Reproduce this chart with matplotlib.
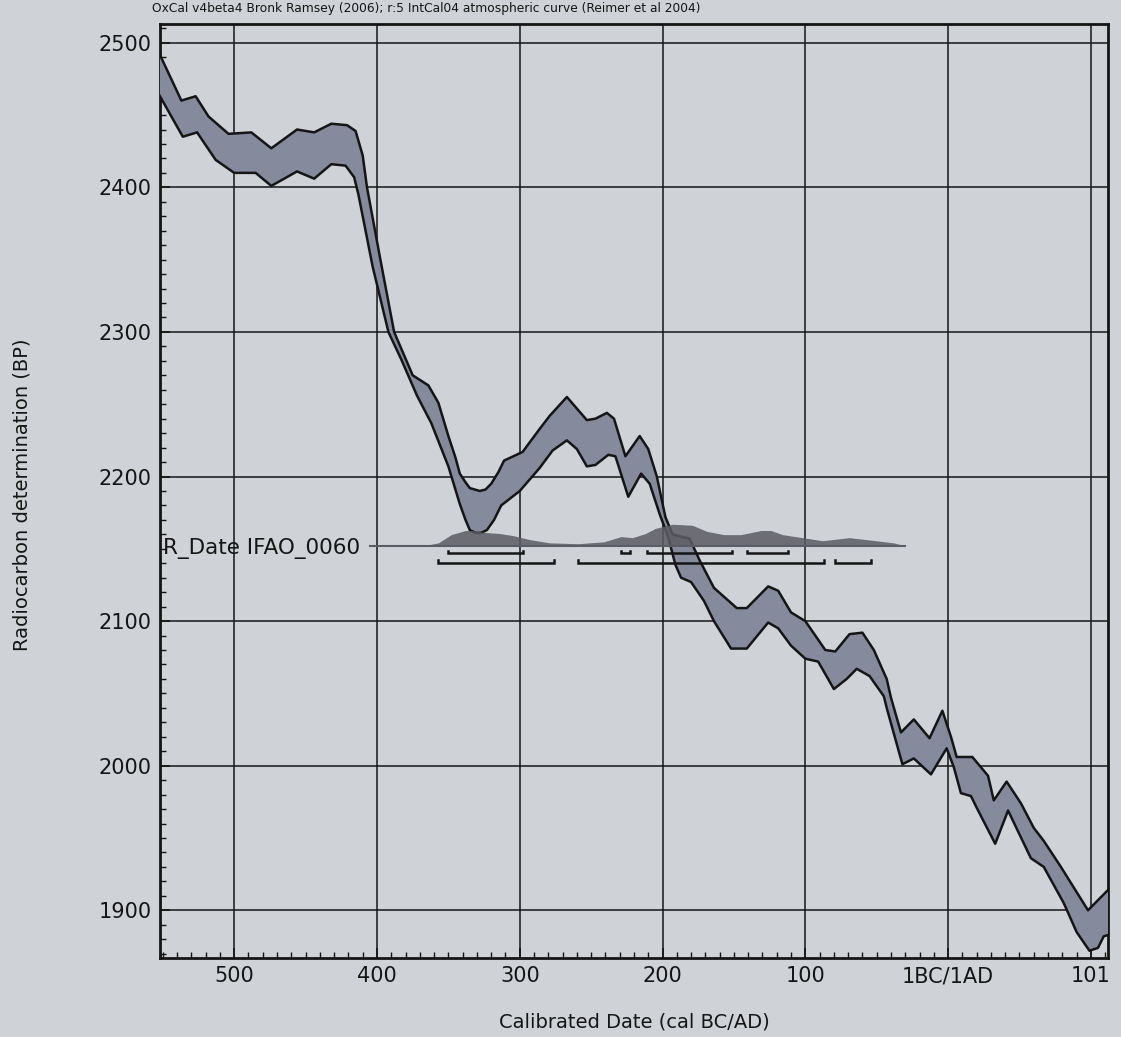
import numpy as np
import matplotlib
matplotlib.use("Agg")
import matplotlib.pyplot as plt
from matplotlib.ticker import MultipleLocator, FixedLocator

# IntCal04 calibration band: upper and lower 1-sigma envelope (years: BC negative, 1BC/1AD = 0)
upper_years = [-556, -537, -527, -518, -504, -488, -474, -456, -444, -432, -421, -415,
               -410, -407, -398, -388, -375, -364, -357, -350, -345, -342, -338, -335,
               -328, -324, -320, -315, -311, -298, -286, -279, -267, -260, -253, -247,
               -239, -234, -226, -216, -210, -204, -198, -193, -181, -174, -164, -148,
               -141, -126, -119, -110, -100, -86, -79, -69, -60, -52, -43, -40, -33,
               -24, -13, -4, 2, 6, 17, 28, 32, 41, 51, 60, 67, 79, 98, 105, 114]
upper_bp = [2500, 2460, 2463, 2449, 2437, 2438, 2427, 2440, 2438, 2444, 2443, 2439,
            2422, 2400, 2352, 2300, 2270, 2263, 2251, 2228, 2213, 2202, 2196, 2192,
            2190, 2191, 2195, 2203, 2211, 2217, 2233, 2242, 2255, 2247, 2239, 2240,
            2244, 2240, 2214, 2228, 2219, 2200, 2172, 2160, 2157, 2142, 2123, 2109,
            2109, 2124, 2121, 2106, 2100, 2080, 2079, 2091, 2092, 2080, 2060, 2047, 2023,
            2032, 2019, 2038, 2020, 2006, 2006, 1993, 1976, 1989, 1974, 1957, 1948, 1930,
            1900, 1907, 1916]

lower_years = [-556, -536, -526, -513, -500, -485, -474, -456, -444, -432, -422, -416,
               -413, -403, -392, -383, -372, -362, -350, -342, -338, -335, -331, -327,
               -323, -318, -313, -300, -286, -277, -267, -260, -253, -247, -238, -233,
               -224, -215, -209, -202, -196, -191, -187, -180, -171, -164, -152, -141,
               -126, -119, -110, -100, -91, -80, -71, -64, -55, -45, -43, -32, -24, -12,
               -1, 4, 9, 16, 20, 33, 42, 58, 67, 81, 90, 99, 105, 109, 116]
lower_bp = [2470, 2435, 2438, 2419, 2410, 2410, 2401, 2411, 2406, 2416, 2415, 2407,
            2395, 2345, 2300, 2281, 2256, 2237, 2207, 2181, 2170, 2163, 2161, 2161,
            2163, 2170, 2180, 2190, 2206, 2218, 2225, 2219, 2207, 2208, 2215, 2214,
            2186, 2202, 2195, 2174, 2158, 2139, 2130, 2127, 2114, 2100, 2081, 2081,
            2099, 2095, 2083, 2074, 2072, 2053, 2060, 2067, 2062, 2048, 2040, 2001, 2005, 1994,
            2012, 1999, 1981, 1979, 1971, 1946, 1969, 1936, 1930, 1905, 1885, 1872, 1874, 1882, 1884]

# Calibrated probability distribution of R_Date IFAO_0060 (relative density)
prob_years = [-405, -381, -364, -357, -348, -338, -334, -324, -314, -305, -293, -279,
              -259, -241, -229, -221, -212, -205, -193, -179, -169, -157, -145, -131,
              -124, -116, -102, -88, -69, -57, -38, -30]
prob_density = [0.0, 0.0, 0.05, 0.14, 0.52, 0.71, 0.71, 0.62, 0.57, 0.48, 0.29, 0.14,
                0.10, 0.19, 0.43, 0.38, 0.57, 0.81, 1.0, 0.95, 0.67, 0.52, 0.52, 0.71,
                0.71, 0.52, 0.38, 0.24, 0.38, 0.29, 0.14, 0.0]

# Highest probability density ranges
ranges_68 = [(-350, -298), (-229, -223), (-211, -151), (-141, -112)]
ranges_95 = [(-357, -276), (-259, -87), (-79, -54)]

date_label = "R_Date IFAO_0060"
date_bp = 2152

x_ticks = [-500, -400, -300, -200, -100, 0, 100]
x_tick_labels = ["500", "400", "300", "200", "100", "1BC/1AD", "101"]
y_ticks = [1900, 2000, 2100, 2200, 2300, 2400, 2500]

title = "OxCal v4beta4 Bronk Ramsey (2006); r:5 IntCal04 atmospheric curve (Reimer et al 2004)"

paper = "#cfd3d7"
band_fill = "#868a9d"
dist_fill = "#5c5c64"
ink = "#151515"

plt.rcParams["font.family"] = ["DejaVu Sans"]

fig = plt.figure(figsize=(11.21, 10.37), dpi=100, facecolor=paper)
ax = fig.add_axes([0.1427, 0.0762, 0.8457, 0.9007], facecolor=paper)

ax.set_xlim(-552, 112)
ax.set_ylim(1867, 2513)

# grid
ax.set_axisbelow(True)
ax.grid(True, which="major", color=ink, lw=1.1)

# calibration band
poly_x = np.concatenate([upper_years, lower_years[::-1]])
poly_y = np.concatenate([upper_bp, lower_bp[::-1]])
ax.fill(poly_x, poly_y, color=band_fill, lw=0, zorder=3)
ax.plot(upper_years, upper_bp, color=ink, lw=1.8, zorder=4, solid_joinstyle="round")
ax.plot(lower_years, lower_bp, color=ink, lw=1.8, zorder=4, solid_joinstyle="round")

# probability distribution
dist_height = 15.0
py = date_bp + dist_height * np.asarray(prob_density)
ax.fill_between(prob_years, date_bp, py, color=dist_fill, alpha=0.85, lw=0, zorder=5)
ax.plot([prob_years[0], prob_years[-1]], [date_bp, date_bp], color=dist_fill, lw=1.5, zorder=5)

# range brackets
def bracket(x0, x1, y, h=1.8):
    ax.plot([x0, x0, x1, x1], [y + h, y, y, y + h], color=ink, lw=1.8,
            solid_joinstyle="miter", zorder=6)

for a, b in ranges_68:
    bracket(a, b, date_bp - 5)
for a, b in ranges_95:
    bracket(a, b, date_bp - 11.5)

ax.text(-550, date_bp - 2, date_label, fontsize=15.5, color=ink, va="center", ha="left", zorder=7)

# axes styling
ax.xaxis.set_major_locator(FixedLocator(x_ticks))
ax.set_xticklabels(x_tick_labels)
ax.xaxis.set_minor_locator(MultipleLocator(10))
ax.yaxis.set_major_locator(FixedLocator(y_ticks))
ax.yaxis.set_minor_locator(MultipleLocator(10))
ax.tick_params(which="major", direction="in", length=7, width=1.2, labelsize=15,
               colors=ink, pad=6)
ax.tick_params(which="minor", direction="in", length=4, width=1.0, colors=ink)
for s in ax.spines.values():
    s.set_linewidth(2.0)
    s.set_color(ink)

fig.text(0.5656, 0.0145, "Calibrated Date (cal BC/AD)", fontsize=14, color=ink,
         ha="center", va="center")
fig.text(0.0196, 0.523, "Radiocarbon determination (BP)", fontsize=14, color=ink,
         ha="center", va="center", rotation=90)
fig.text(0.1356, 0.9915, title, fontsize=8.8, color=ink, ha="left", va="center")

fig.savefig("out.png", dpi=100, facecolor=paper)
